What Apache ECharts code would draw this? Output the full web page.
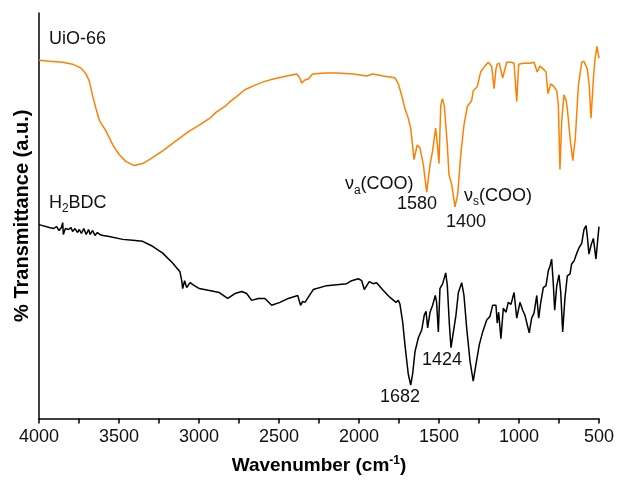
<!DOCTYPE html>
<html>
<head>
<meta charset="utf-8">
<script src="https://cdn.jsdelivr.net/npm/echarts@6/dist/echarts.min.js"></script>
<style>
  html, body { margin: 0; padding: 0; background: #fff; }
  #chart { width: 618px; height: 480px; }
</style>
</head>
<body>
<div id="chart"></div>
<script>
// UiO-66 spectrum (wavenumber, transmittance a.u.)
const uioWn = [4000, 3935, 3852, 3790, 3737, 3706, 3686, 3665, 3644, 3623, 3581, 3539, 3498, 3456, 3404, 3352, 3300, 3227, 3144, 3061, 2998, 2925, 2894, 2831, 2806, 2765, 2713, 2661, 2598, 2536, 2452, 2389, 2373, 2358, 2338, 2317, 2290, 2213, 2140, 2036, 1952, 1914, 1848, 1806, 1775, 1754, 1733, 1713, 1692, 1677, 1656, 1636, 1619, 1598, 1577, 1556, 1540, 1521, 1510, 1500, 1489, 1479, 1467, 1448, 1438, 1421, 1400, 1383, 1364, 1344, 1323, 1296, 1286, 1261, 1240, 1219, 1192, 1171, 1156, 1144, 1136, 1123, 1102, 1077, 1046, 1031, 1014, 1002, 973, 931, 906, 886, 869, 848, 831, 819, 802, 786, 764, 754, 744, 733, 719, 706, 698, 681, 664, 648, 629, 608, 594, 573, 561, 550, 535, 525, 513, 500];
const uioT = [364, 363, 362, 360, 356, 350, 343, 328, 315, 303, 292, 278, 268, 261, 257, 259, 264, 272, 282, 292, 298, 306, 311, 318, 322, 327, 334, 338, 342, 345, 348, 350, 347, 341, 344, 345, 350, 351, 351, 350, 348, 350, 348, 347, 346, 340, 328, 315, 305, 295, 263, 278, 275, 258, 230, 258, 272, 295, 278, 259, 318, 325, 318, 278, 248, 238, 215, 228, 268, 298, 317, 323, 333, 337, 352, 357, 362, 358, 335, 355, 360, 361, 346, 362, 362, 361, 322, 360, 361, 361, 362, 352, 358, 355, 352, 330, 340, 338, 333, 318, 253, 302, 329, 323, 315, 285, 262, 285, 338, 362, 363, 355, 338, 305, 345, 365, 378, 366];

// H2BDC spectrum
const bdcWn = [4000, 3935, 3910, 3890, 3875, 3860, 3852, 3848, 3835, 3815, 3800, 3790, 3775, 3760, 3748, 3735, 3720, 3705, 3690, 3680, 3665, 3650, 3635, 3620, 3600, 3561, 3477, 3415, 3352, 3290, 3227, 3165, 3119, 3108, 3102, 3090, 3077, 3056, 3029, 2998, 2935, 2873, 2821, 2775, 2733, 2702, 2671, 2629, 2588, 2546, 2494, 2442, 2383, 2365, 2352, 2338, 2286, 2202, 2140, 2077, 2046, 2004, 1983, 1967, 1936, 1911, 1890, 1848, 1806, 1769, 1754, 1744, 1727, 1713, 1692, 1677, 1665, 1650, 1629, 1608, 1592, 1581, 1571, 1556, 1540, 1523, 1515, 1504, 1494, 1477, 1458, 1448, 1435, 1425, 1410, 1394, 1379, 1358, 1344, 1327, 1306, 1286, 1269, 1248, 1227, 1202, 1181, 1165, 1144, 1136, 1127, 1113, 1098, 1081, 1067, 1050, 1031, 1014, 994, 977, 963, 948, 936, 921, 906, 889, 877, 864, 848, 831, 817, 806, 796, 786, 777, 764, 750, 739, 727, 713, 698, 681, 671, 656, 639, 623, 608, 594, 581, 573, 563, 548, 535, 519, 506, 500];
const bdcT = [197, 194, 193, 195, 191, 194, 199, 187, 193, 192, 194, 190, 193, 189, 192, 188, 193, 187, 192, 187, 191, 186, 189, 187, 186, 185, 182, 181, 180, 175, 168, 158, 149, 140, 132, 140, 133, 138, 135, 132, 130, 128, 122, 127, 129, 127, 120, 122, 122, 115, 118, 122, 125, 115, 119, 118, 131, 135, 136, 137, 140, 142, 140, 131, 139, 137, 138, 130, 123, 118, 120, 116, 98, 75, 45, 34, 45, 68, 82, 90, 105, 109, 92, 108, 115, 125, 118, 88, 132, 137, 148, 135, 95, 72, 88, 105, 128, 138, 125, 92, 58, 38, 55, 75, 88, 100, 104, 115, 115, 97, 108, 81, 112, 108, 118, 116, 128, 102, 118, 110, 105, 95, 87, 102, 107, 125, 102, 118, 133, 135, 150, 155, 162, 138, 110, 135, 146, 128, 88, 122, 145, 147, 157, 160, 168, 174, 178, 192, 196, 185, 167, 177, 183, 162, 185, 195];

// text annotations: [wavenumber, value, label, placement]
const notes = [
  [3938, 386, '{n|UiO-66}', 'right'],
  [3938, 219, '{n|H}{sub|2}{n|BDC}', 'right'],
  [2088, 238, '{n|ν}{sub|a}{n|(COO)}', 'right'],
  [1638, 218, '{n|1580}', 'inside'],
  [1344, 226, '{n|ν}{sub|s}{n|(COO)}', 'right'],
  [1331, 200, '{n|1400}', 'inside'],
  [1744, 22, '{n|1682}', 'inside'],
  [1481, 59, '{n|1424}', 'inside']
];

const font = '"Liberation Sans", Arial, sans-serif';
const zip = (xs, ys) => xs.map((x, i) => [x, ys[i]]);

const chart = echarts.init(document.getElementById('chart'));

chart.setOption({
  animation: false,
  grid: { left: 39, right: 19, top: 13, bottom: 55 },
  xAxis: {
    type: 'value',
    inverse: true,
    min: 500,
    max: 4000,
    interval: 500,
    name: '{b|Wavenumber (cm}{sup|-1}{b|)}',
    nameLocation: 'middle',
    nameGap: 36,
    nameTextStyle: {
      rich: {
        b: { fontFamily: font, fontSize: 19, fontWeight: 'bold', color: '#000' },
        sup: { fontFamily: font, fontSize: 12, fontWeight: 'bold', color: '#000', verticalAlign: 'top', lineHeight: 22 }
      }
    },
    axisLine: { lineStyle: { color: '#000', width: 1.5 } },
    axisTick: { show: true, inside: false, length: 5, lineStyle: { color: '#000', width: 1.5 } },
    minorTick: { show: true, splitNumber: 2, length: 5, lineStyle: { color: '#000', width: 1.5 } },
    axisLabel: { fontFamily: font, fontSize: 18, color: '#111', margin: 10, formatter: v => String(v) },
    splitLine: { show: false }
  },
  yAxis: {
    type: 'value',
    min: 0,
    max: 412,
    name: '% Transmittance (a.u.)',
    nameLocation: 'middle',
    nameGap: 7,
    nameTextStyle: { fontFamily: font, fontSize: 20, fontWeight: 'bold', color: '#000' },
    axisLine: { show: true, lineStyle: { color: '#000', width: 1.5 } },
    axisTick: { show: false },
    axisLabel: { show: false },
    splitLine: { show: false }
  },
  series: [
    {
      name: 'UiO-66',
      type: 'line',
      data: zip(uioWn, uioT),
      showSymbol: false,
      lineStyle: { color: '#ff8000', width: 1.5 }
    },
    {
      name: 'H2BDC',
      type: 'line',
      data: zip(bdcWn, bdcT),
      showSymbol: false,
      lineStyle: { color: '#000', width: 1.5 }
    },
    {
      name: 'notes',
      type: 'scatter',
      symbolSize: 0,
      silent: true,
      itemStyle: { opacity: 1 },
      data: notes.map(n => ({
        value: [n[0], n[1]],
        label: { show: true, position: n[3], distance: 0, formatter: n[2] }
      })),
      label: {
        color: '#111',
        opacity: 1,
        rich: {
          n: { fontFamily: font, fontSize: 18, color: '#111', lineHeight: 24 },
          sub: { fontFamily: font, fontSize: 12, color: '#111', verticalAlign: 'bottom', lineHeight: 24 }
        }
      }
    }
  ]
});
</script>
</body>
</html>
